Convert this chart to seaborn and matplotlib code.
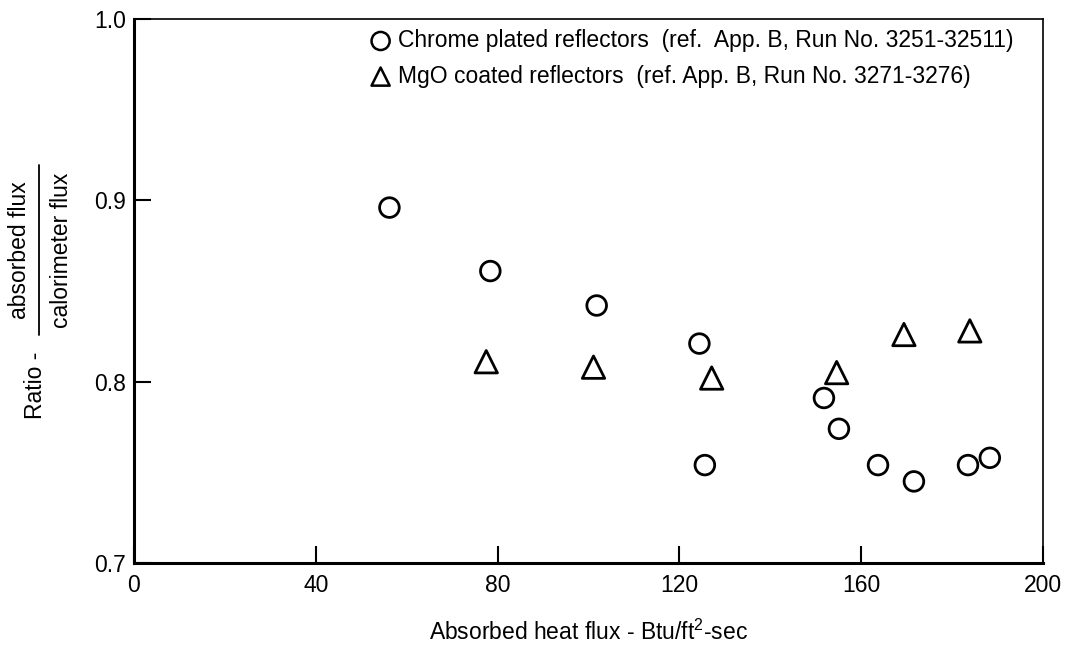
import matplotlib
matplotlib.use("Agg")
import matplotlib.pyplot as plt
import seaborn as sns
import pandas as pd
from matplotlib.lines import Line2D

# ---- data ----
chrome_x = [56.2, 78.4, 101.8, 124.4, 125.6, 151.8, 155.1, 163.7, 171.6, 183.5, 188.3]
chrome_y = [0.896, 0.861, 0.842, 0.821, 0.754, 0.791, 0.774, 0.754, 0.745, 0.754, 0.758]
mgo_x = [77.5, 101.1, 127.1, 154.6, 169.4, 183.9]
mgo_y = [0.811, 0.808, 0.802, 0.805, 0.826, 0.828]
chrome_label = "Chrome plated reflectors  (ref.  App. B, Run No. 3251-32511)"
mgo_label = "MgO coated reflectors  (ref. App. B, Run No. 3271-3276)"
x_ticks = [0, 40, 80, 120, 160, 200]
y_ticks = [0.7, 0.8, 0.9, 1.0]
x_label = "Absorbed heat flux - Btu/ft$^{2}$-sec"

sns.set_theme(style="white")
plt.rcParams['font.family'] = ['Liberation Sans', 'DejaVu Sans']
plt.rcParams['mathtext.fontset'] = 'custom'
plt.rcParams['mathtext.rm'] = 'Liberation Sans'
plt.rcParams['text.color'] = 'black'
plt.rcParams['axes.labelcolor'] = 'black'

FS = 16.5
W, H = 1068, 648
fig = plt.figure(figsize=(W / 100, H / 100), dpi=100)
ax = fig.add_axes([134 / W, 1 - 563 / H, (1043 - 134) / W, (563 - 19) / H])

df_c = pd.DataFrame({"x": chrome_x, "y": chrome_y})
df_m = pd.DataFrame({"x": mgo_x, "y": mgo_y})
sns.scatterplot(data=df_c, x="x", y="y", marker="o", s=200, facecolor="none",
                edgecolor="black", linewidth=2.0, label=chrome_label, ax=ax, zorder=3)
sns.scatterplot(data=df_m, x="x", y="y", marker="^", s=260, facecolor="none",
                edgecolor="black", linewidth=2.0, label=mgo_label, ax=ax, zorder=3)

ax.set_xlim(0, 200)
ax.set_ylim(0.7, 1.0)
ax.set_xticks(x_ticks)
ax.set_xticklabels([str(v) for v in x_ticks])
ax.set_yticks(y_ticks)
ax.set_yticklabels([f"{v:.1f}" for v in y_ticks])
ax.tick_params(axis="both", direction="in", length=12, width=1.5, color="black",
               labelsize=FS, labelcolor="black")
ax.tick_params(axis="x", pad=8, top=False, bottom=True)
ax.tick_params(axis="y", pad=6, left=True, right=False)
ax.set_xlabel(x_label, fontsize=FS, labelpad=16, color="black")
ax.set_ylabel("")

for side in ["left", "bottom"]:
    ax.spines[side].set_linewidth(2.2)
for side in ["top", "right"]:
    ax.spines[side].set_linewidth(1.2)
for sp in ax.spines.values():
    sp.set_color("black")
    sp.set_visible(True)

leg = ax.legend(loc="upper left", bbox_to_anchor=(368 / W, 1 - 29 / H),
                bbox_transform=fig.transFigure, frameon=False, fontsize=FS,
                handletextpad=0.2, handlelength=1.1, labelspacing=0.55,
                borderpad=0, borderaxespad=0)
for h in leg.legend_handles:
    h.set_sizes([170])
    h.set_linewidth(1.8)
for t in leg.get_texts():
    t.set_color("black")

# y-axis label: "Ratio - absorbed flux / calorimeter flux"
fig.text(35 / W, 1 - 385 / H, "Ratio -", rotation=90, ha="center", va="center", fontsize=FS)
fig.text(20 / W, 1 - 250 / H, "absorbed flux", rotation=90, ha="center", va="center", fontsize=FS)
fig.text(62 / W, 1 - 250 / H, "calorimeter flux", rotation=90, ha="center", va="center", fontsize=FS)
fig.add_artist(Line2D([39 / W, 39 / W], [1 - 165 / H, 1 - 335 / H], transform=fig.transFigure,
                      color="black", linewidth=1.3))

fig.savefig("out.png", dpi=100)
